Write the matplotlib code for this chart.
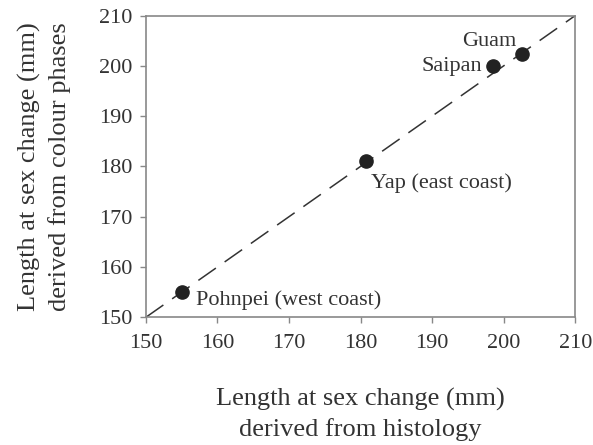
import matplotlib
matplotlib.use("Agg")
import matplotlib.pyplot as plt

# Length at sex change per location (mm)
sites = ["Pohnpei (west coast)", "Yap (east coast)", "Saipan", "Guam"]
histology = [155.0, 180.7, 198.5, 202.6]
colour_phases = [155.1, 181.0, 200.0, 202.3]

# label anchor points and alignment for each site
label_x = [157.0, 181.4, 197.0, 201.8]
label_y = [153.4, 176.6, 199.9, 204.8]
label_ha = ["left", "left", "right", "right"]

ticks = [150, 160, 170, 180, 190, 200, 210]

plt.rcParams["font.family"] = ["Liberation Serif", "DejaVu Serif"]
text_col = "#333333"

fig = plt.figure(figsize=(5.93, 4.45), dpi=100)
ax = fig.add_axes([0.246, 0.287, 0.724, 0.678])

# 1:1 reference line
ax.plot([150, 210], [150, 210], color="#333333", lw=1.1, dashes=(14, 7))
ax.plot(histology, colour_phases, "o", color="#222222", markersize=9.5, zorder=5)

for name, x, y, ha in zip(sites, label_x, label_y, label_ha):
    ax.text(x, y, name, ha=ha, va="center", fontsize=16, color=text_col)

ax.set_xlim(150, 210)
ax.set_ylim(150, 210)
ax.set_xticks(ticks)
ax.set_yticks(ticks)
ax.tick_params(labelsize=16, colors="#888888", labelcolor=text_col,
               length=4, width=1)
ax.tick_params(axis="x", pad=8)
ax.tick_params(axis="y", pad=6)

for sp in ax.spines.values():
    sp.set_color("#888888")
    sp.set_linewidth(1.2)

ax.set_xlabel("Length at sex change (mm)\nderived from histology",
              fontsize=19, color=text_col, labelpad=25, linespacing=1.4)
ax.set_ylabel("Length at sex change (mm)\nderived from colour phases",
              fontsize=19, color=text_col, labelpad=20, linespacing=1.4)

fig.savefig("out.png", dpi=100)
